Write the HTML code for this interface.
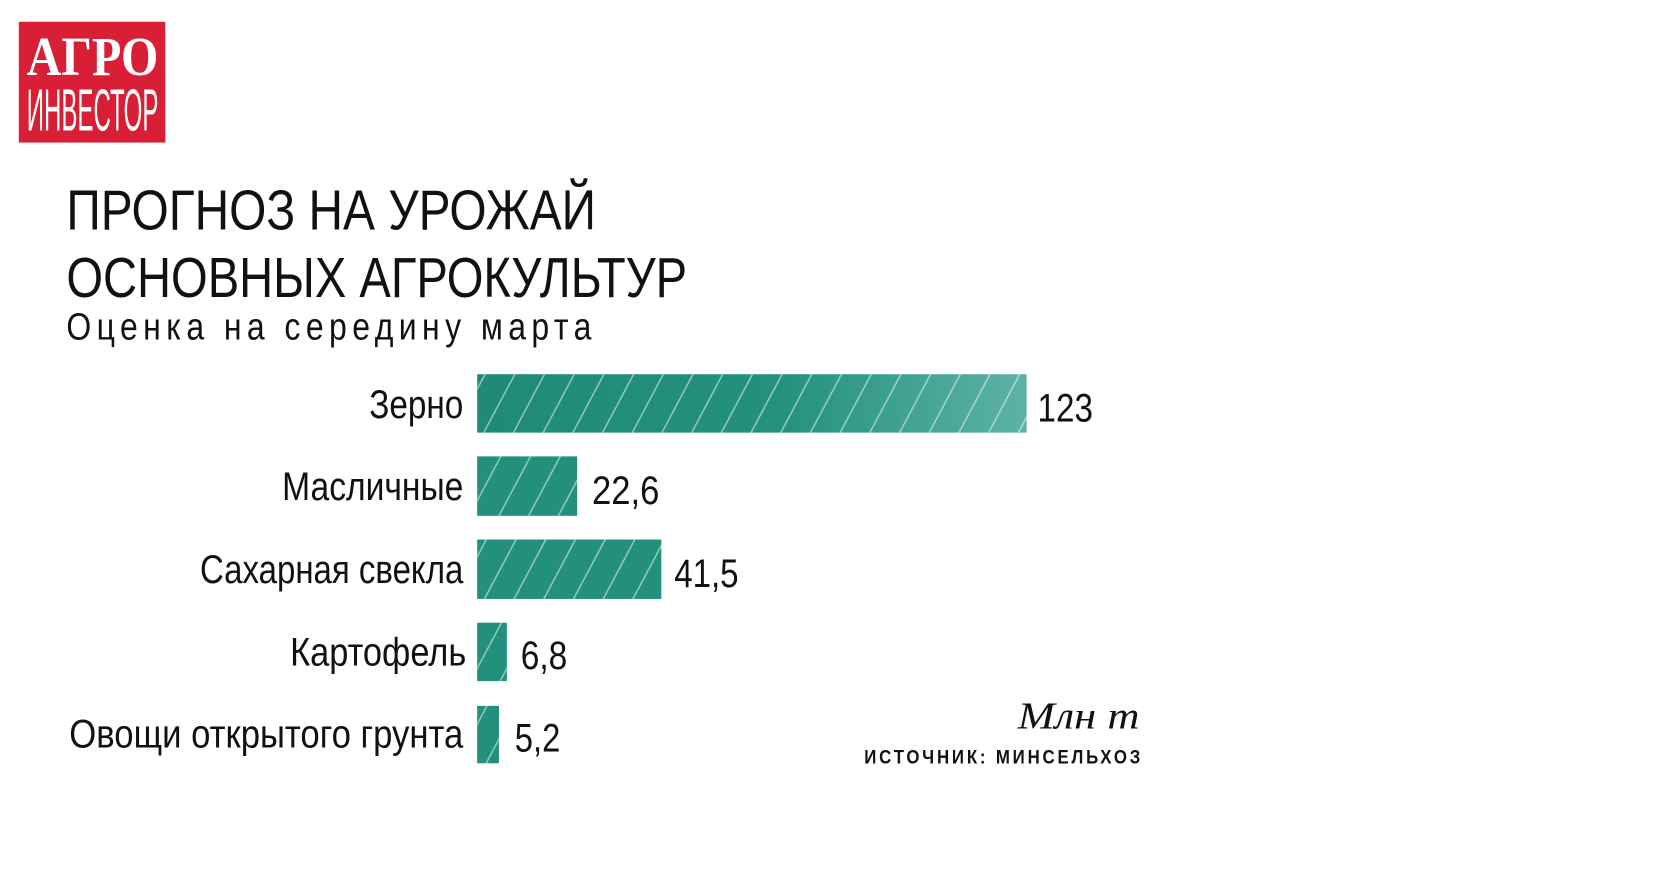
<!DOCTYPE html>
<html><head><meta charset="utf-8"><style>html,body{margin:0;padding:0;background:#fff;}svg{display:block}</style></head>
<body>
<svg width="1676" height="872" viewBox="0 0 1676 872" xmlns="http://www.w3.org/2000/svg">
<defs>
<pattern id="h" patternUnits="userSpaceOnUse" width="30" height="60" patternTransform="skewX(-28)">
<rect width="30" height="60" fill="none"/>
<line x1="1" y1="0" x2="1" y2="60" stroke="#ffffff" stroke-opacity="0.55" stroke-width="1.6"/>
</pattern>
<linearGradient id="g1" x1="0" x2="1" y1="0" y2="0">
<stop offset="0" stop-color="#1f8a78"/><stop offset="0.55" stop-color="#23917e"/><stop offset="1" stop-color="#5db3a4"/>
</linearGradient>
</defs>
<g transform="scale(0.99)">
<rect x="19" y="22" width="148" height="122" fill="#d81f35"/>
<text x="27" y="76" font-family="Liberation Serif, serif" font-weight="bold" font-size="56" fill="#fff" textLength="133" lengthAdjust="spacingAndGlyphs">АГРО</text>
<text x="27" y="132" font-family="Liberation Sans, sans-serif" font-size="60" fill="#fff" textLength="133" lengthAdjust="spacingAndGlyphs">ИНВЕСТОР</text>

<g font-family="Liberation Sans, sans-serif" fill="#111">
<text x="67" y="232" font-size="57" textLength="535" lengthAdjust="spacingAndGlyphs">ПРОГНОЗ НА УРОЖАЙ</text>
<text x="67" y="300" font-size="57" textLength="627" lengthAdjust="spacingAndGlyphs">ОСНОВНЫХ АГРОКУЛЬТУР</text>
<g transform="translate(67,343) scale(0.85,1)">
<text x="0" y="0" font-size="38" textLength="624" lengthAdjust="spacing">Оценка на середину марта</text>
</g>
</g>

<rect x="482" y="378" width="555" height="59" fill="url(#g1)"/>
<rect x="482" y="378" width="555" height="59" fill="url(#h)"/>
<rect x="482" y="461" width="101" height="60" fill="#23907d"/>
<rect x="482" y="461" width="101" height="60" fill="url(#h)"/>
<rect x="482" y="545" width="186" height="60" fill="#23907d"/>
<rect x="482" y="545" width="186" height="60" fill="url(#h)"/>
<rect x="482" y="629" width="30" height="59" fill="#23907d"/>
<rect x="482" y="629" width="30" height="59" fill="url(#h)"/>
<rect x="482" y="713" width="22" height="58" fill="#23907d"/>
<rect x="482" y="713" width="22" height="58" fill="url(#h)"/>

<g font-family="Liberation Sans, sans-serif" fill="#111" font-size="40">
<text x="373" y="422" textLength="95" lengthAdjust="spacingAndGlyphs">Зерно</text>
<text x="285" y="505" textLength="183" lengthAdjust="spacingAndGlyphs">Масличные</text>
<text x="202" y="589" textLength="266" lengthAdjust="spacingAndGlyphs">Сахарная свекла</text>
<text x="293" y="672" textLength="178" lengthAdjust="spacingAndGlyphs">Картофель</text>
<text x="70" y="755" textLength="398" lengthAdjust="spacingAndGlyphs">Овощи открытого грунта</text>
<text x="1048" y="426" textLength="56" lengthAdjust="spacingAndGlyphs">123</text>
<text x="598" y="509" textLength="68" lengthAdjust="spacingAndGlyphs">22,6</text>
<text x="681" y="593" textLength="65" lengthAdjust="spacingAndGlyphs">41,5</text>
<text x="526" y="676" textLength="47" lengthAdjust="spacingAndGlyphs">6,8</text>
<text x="520" y="759" textLength="46" lengthAdjust="spacingAndGlyphs">5,2</text>
</g>
<text x="1028" y="736" font-family="Liberation Serif, serif" font-style="italic" font-size="38" fill="#111" textLength="123" lengthAdjust="spacingAndGlyphs">Млн т</text>
<g transform="translate(873,771) scale(0.85,1)">
<text x="0" y="0" font-family="Liberation Sans, sans-serif" font-weight="bold" font-size="20" fill="#111" textLength="328" lengthAdjust="spacing">ИСТОЧНИК: МИНСЕЛЬХОЗ</text>
</g>
</g>
</svg>
</body></html>
